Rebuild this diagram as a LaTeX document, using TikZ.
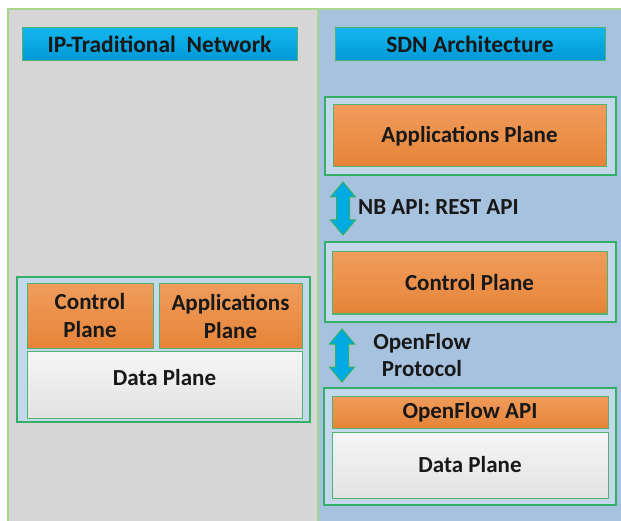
\documentclass[tikz,border=0pt]{standalone}
\usepackage{fontspec}
\setmainfont{Carlito}

\definecolor{panelgray}{RGB}{214,214,214}
\definecolor{panelblue}{RGB}{167,194,222}
\definecolor{framegreen}{RGB}{168,214,140}
\definecolor{groupgreen}{RGB}{52,176,102}
\definecolor{boxgreen}{RGB}{80,180,110}
\definecolor{groupfill}{RGB}{196,216,236}
\definecolor{orangetop}{RGB}{240,156,92}
\definecolor{orangebot}{RGB}{230,132,56}
\definecolor{cyantop}{RGB}{20,182,238}
\definecolor{cyanbot}{RGB}{0,152,214}
\definecolor{datatop}{RGB}{246,246,246}
\definecolor{databot}{RGB}{226,226,226}
\definecolor{arrowcyan}{RGB}{0,170,226}
\definecolor{inkdark}{RGB}{24,24,24}

\tikzset{
  box/.style={anchor=north west, inner sep=0pt, outer sep=0pt,
    text=inkdark, align=center, font=\fontsize{23}{28}\selectfont\bfseries},
  titlebox/.style={box, draw=boxgreen, line width=1pt,
    top color=cyantop, bottom color=cyanbot,
    font=\fontsize{23.5}{26}\selectfont\bfseries},
  groupbox/.style={anchor=north west, inner sep=0pt, outer sep=0pt,
    draw=groupgreen, line width=2pt, fill=groupfill},
  orangebox/.style={box, draw=boxgreen, line width=1pt,
    top color=orangetop, bottom color=orangebot},
  databox/.style={box, draw=boxgreen, line width=1pt,
    top color=datatop, bottom color=databot},
  plain/.style={inner sep=0pt, text=inkdark, align=center,
    font=\fontsize{23}{27}\selectfont\bfseries},
  updown/.pic={
    \draw[draw=groupgreen, line width=1pt, fill=arrowcyan]
      (0,-26.5) -- (12.5,-11.5) -- (6.5,-11.5) -- (6.5,11.5) -- (12.5,11.5)
      -- (0,26.5) -- (-12.5,11.5) -- (-6.5,11.5) -- (-6.5,-11.5)
      -- (-12.5,-11.5) -- cycle;
  }
}

\begin{document}
\begin{tikzpicture}[x=1pt, y=-1pt]
\useasboundingbox (0,0) rectangle (621,521);
\begin{scope}
\clip (0,0) rectangle (621,521);

% two background panels and their frame
\fill[panelgray] (8,9) rectangle (318,530);
\fill[panelblue] (318,9) rectangle (630,530);
\draw[framegreen, line width=2pt] (8,530) -- (8,9) -- (630,9);
\draw[framegreen, line width=2pt] (318,9) -- (318,530);

% headings
\node[titlebox, minimum width=275pt, minimum height=33pt] (titleL) at (22,28) {IP-Traditional~ Network};
\node[titlebox, minimum width=270pt, minimum height=33pt] (titleR) at (335,28) {SDN Architecture};

% traditional device: control, applications and data in one box
\node[groupbox, minimum width=293pt, minimum height=145pt] (leftG) at (17,277) {};
\node[orangebox, minimum width=126pt, minimum height=64pt] (ctlL) at (27,284) {Control\\Plane};
\node[orangebox, minimum width=143pt, minimum height=64pt] (appL) at (159,284) {Applications\\Plane};
\node[databox, minimum width=275pt, minimum height=67pt,
      label={[plain, yshift=7pt]center:Data Plane}] (dataL) at (27,351) {};

% SDN layers
\node[groupbox, minimum width=291pt, minimum height=78pt] (appG) at (325,97) {};
\node[orangebox, minimum width=273pt, minimum height=62pt] (appR) at (333,105) {Applications Plane};

\node[groupbox, minimum width=291pt, minimum height=80pt] (ctlG) at (325,242) {};
\node[orangebox, minimum width=275pt, minimum height=62pt] (ctlR) at (332,252) {Control Plane};

\node[groupbox, minimum width=292pt, minimum height=117pt] (botG) at (324,388) {};
\node[orangebox, minimum width=276pt, minimum height=32pt] (ofapi) at (332,396) {OpenFlow API};
\node[databox, minimum width=276pt, minimum height=66pt] (dataR) at (332,432) {Data Plane};

% interfaces between the layers
\path (343,208.5) pic {updown};
\node[plain, anchor=west] (nbapi) at (358,207) {NB API: REST API};

\path (342,355.5) pic {updown};
\node[plain] (ofproto) at (422,355.5) {OpenFlow\\Protocol};
\end{scope}
\end{tikzpicture}
\end{document}
